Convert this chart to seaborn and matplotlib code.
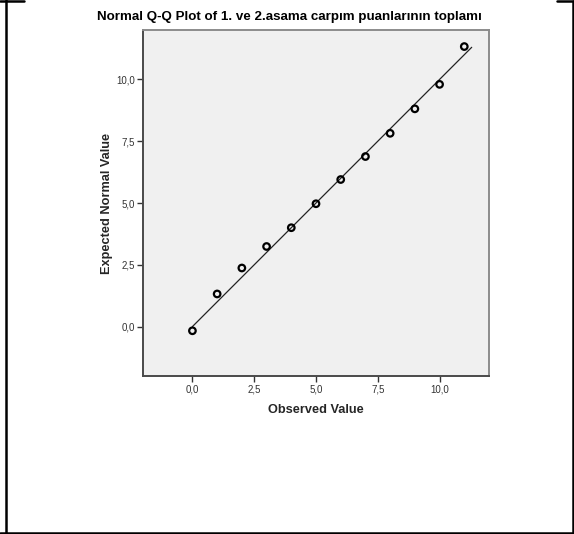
import matplotlib
matplotlib.use("Agg")
import matplotlib.pyplot as plt
from matplotlib.lines import Line2D
from matplotlib.ticker import FuncFormatter, FixedLocator
import seaborn as sns
import pandas as pd

# Observed totals and their expected normal values
observed = [0, 1, 2, 3, 4, 5, 6, 7, 8, 9, 10, 11]
expected = [-0.17, 1.32, 2.37, 3.24, 4.00, 4.97, 5.95, 6.88, 7.82, 8.81, 9.80, 11.33]

# Reference line (y = x) end points
ref_line = [0.0, 11.3]

x_ticks = [0.0, 2.5, 5.0, 7.5, 10.0]
y_ticks = [0.0, 2.5, 5.0, 7.5, 10.0]

title = "Normal Q-Q Plot of 1. ve 2.asama carpım puanlarının toplamı"
x_label = "Observed Value"
y_label = "Expected Normal Value"

sns.set_theme(style="white")
plt.rcParams["font.family"] = ["Liberation Sans", "DejaVu Sans"]

fig = plt.figure(figsize=(5.74, 5.34), dpi=100)
W, H = 574, 534
ax = fig.add_axes([143 / W, 1 - 376 / H, (489 - 143) / W, (376 - 30) / H])
ax.set_facecolor("#f0f0f0")

df = pd.DataFrame({"obs": observed, "exp": expected})
line_df = pd.DataFrame({"x": ref_line, "y": ref_line})

sns.lineplot(data=line_df, x="x", y="y", ax=ax, color="#222222", linewidth=0.9)
sns.scatterplot(data=df, x="obs", y="exp", ax=ax, marker="o", s=22,
                facecolor="none", edgecolor="black", linewidth=1.6, zorder=3)

ax.set_xlim(-2, 12)
ax.set_ylim(-2, 12)
ax.xaxis.set_major_locator(FixedLocator(x_ticks))
ax.yaxis.set_major_locator(FixedLocator(y_ticks))
fmt = FuncFormatter(lambda v, p: f"{v:.1f}".replace(".", ","))
ax.xaxis.set_major_formatter(fmt)
ax.yaxis.set_major_formatter(fmt)
ax.tick_params(axis="both", which="major", direction="out", length=4, width=1,
               color="#333333", labelsize=7, labelcolor="#333333", pad=2,
               bottom=True, left=True)

for side in ("left", "bottom"):
    ax.spines[side].set_color("#4a4a4a")
    ax.spines[side].set_linewidth(1.4)
for side in ("top", "right"):
    ax.spines[side].set_color("#8c8c8c")
    ax.spines[side].set_linewidth(1.4)

ax.set_xlabel(x_label, fontsize=9.2, fontweight="bold", labelpad=7)
ax.set_ylabel(y_label, fontsize=9.2, fontweight="bold", labelpad=2)
fig.text(289 / W, 1 - 17 / H, title, ha="center", va="center",
         fontsize=9.6, fontweight="bold", color="black")

# Outer frame segments
frame = dict(color="black", linewidth=1.8, transform=fig.transFigure)
fig.add_artist(Line2D([5.5 / W, 5.5 / W], [1 - 0 / H, 1 - 533 / H], **frame))
fig.add_artist(Line2D([0, 24 / W], [1 - 1 / H, 1 - 1 / H], **frame))
fig.add_artist(Line2D([573 / W, 573 / W], [1 - 1 / H, 1 - 533 / H], **frame))
fig.add_artist(Line2D([557 / W, 574 / W], [1 - 1 / H, 1 - 1 / H], **frame))
fig.add_artist(Line2D([0, 1], [1 - 532.5 / H, 1 - 532.5 / H], **frame))

fig.savefig("out.png", dpi=100, facecolor="white")
